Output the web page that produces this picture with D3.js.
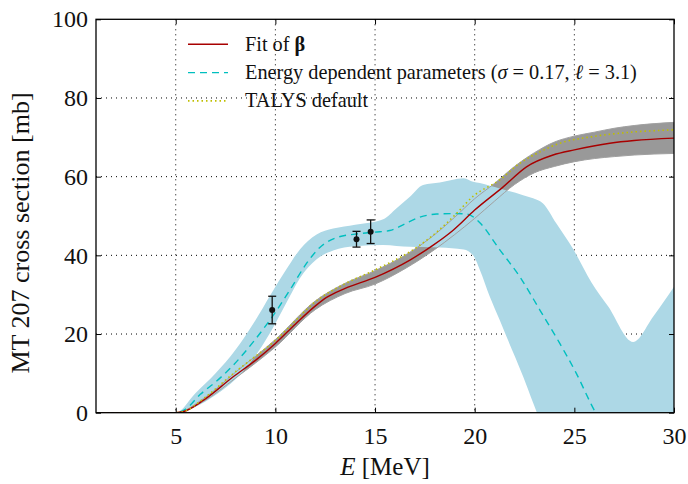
<!DOCTYPE html>
<html>
<head>
<meta charset="utf-8">
<script src="https://cdn.jsdelivr.net/npm/d3@7"></script>
<style>
  html, body { margin: 0; padding: 0; background: #fff; }
  svg { display: block; }
  text { font-family: "Liberation Serif", "DejaVu Serif", serif; fill: #111; }
</style>
</head>
<body>
<div id="chart"></div>
<script>
// ---- data (E in MeV, sigma in mb) ----
const fitE     = [1, 5, 5.4, 6.4, 7.9, 9, 10, 11, 12.07, 12.57, 13.5, 15, 16.75, 17.92, 18.92, 20, 21.43, 22.6, 23.93, 25, 26.78, 28, 30];
const fitSigma = [0, 0, 0.3, 3.2, 9.2, 13.3, 17.6, 22.5, 27.4, 29.3, 31.6, 34.4, 38.8, 42.6, 46.4, 51.5, 57.4, 62.5, 65.5, 66.8, 68.5, 69.2, 69.8];

// uncertainty band of the fit
const fitBandE    = [1, 5, 6.4, 8, 10, 12, 13.5, 15, 16.5, 18, 19, 20, 21, 22, 23, 24, 25, 26, 27, 28, 30];
const fitBandLow  = [0, 0, 2.9, 8.8, 16.7, 26.2, 30.3, 32.7, 36.6, 41.5, 45.3, 49.4, 53.8, 58.0, 61.0, 62.6, 63.8, 64.6, 65.1, 65.5, 65.9];
const fitBandHigh = [0, 0, 3.6, 10.3, 18.6, 28.4, 32.9, 36.1, 40.0, 45.3, 49.7, 54.4, 58.3, 62.6, 66.1, 68.8, 70.3, 71.3, 72.3, 73.0, 73.8];

// energy dependent parameters (sigma = 0.17, l = 3.1)
const edpE     = [1, 5, 5.5, 6.22, 7, 7.89, 8.97, 9.9, 10.73, 11.57, 12.23, 13.07, 14, 15, 15.74, 16.5, 17.25, 18.09, 19.0, 19.6, 20.0, 20.26, 21.26, 22.26, 23.27, 24.27, 25.1, 25.86, 26.5, 27.5];
const edpSigma = [0, 0, 0.9, 4.6, 7.8, 12.1, 18.5, 24.8, 31.2, 38.0, 42.0, 44.5, 45.4, 45.9, 46.3, 48.0, 49.7, 50.5, 50.6, 50.5, 49.5, 48.3, 41.4, 34.6, 26.1, 17.6, 10.0, 2.0, -4, -12];

const edpBandE    = [1, 5, 6, 7, 8, 9, 9.76, 10.56, 11.23, 12.07, 12.9, 14, 15.41, 16.08, 16.75, 17.41, 18.25, 19.45, 19.92, 20.26, 20.76, 21.26, 21.6, 22.43, 22.93, 23.43, 24.1, 24.94, 25.86, 26.7, 27.95, 28.95, 30];
const edpBandHigh = [0, 0, 5.0, 10.0, 16.0, 23.5, 30.0, 36.5, 41.5, 45.3, 46.8, 47.8, 49.2, 52.0, 54.9, 57.9, 58.5, 59.6, 58.7, 58.4, 57.7, 57.0, 56.5, 55.3, 54.5, 53.2, 48.1, 41.6, 33.1, 27.0, 18.0, 24.4, 32.0];
const edpBandLow  = [0, 0, 1.5, 4.5, 8.5, 14.5, 20.5, 28.0, 34.2, 39.0, 41.2, 42.3, 42.6, 42.4, 42.2, 42.1, 42.0, 41.5, 40.0, 36.3, 29.5, 23.5, 19.3, 9.2, 2.5, -4, -12, -22, -32, -42, -55, -65, -75];

// TALYS default
const talysE     = [1, 5, 5.4, 6.4, 7.9, 10, 12.23, 13.5, 15, 17.08, 18, 19, 19.92, 21.26, 22.26, 23.27, 24.27, 25.94, 27.6, 30];
const talysSigma = [0, 0, 0.3, 3.6, 10.0, 18.4, 29.1, 32.8, 36.3, 42.0, 45.5, 50.2, 55.0, 59.2, 63.4, 66.3, 68.5, 70.2, 71.2, 71.9];

// measurements
const measE     = [9.84, 14.07, 14.78];
const measSigma = [26.1, 44.1, 46.0];
const measErr   = [3.5, 2.0, 3.0];

const xTicks = [5, 10, 15, 20, 25, 30];
const yTicks = [0, 20, 40, 60, 80, 100];

// ---- layout ----
const W = 688, H = 484;
const m = { left: 96, right: 14, top: 19.3, bottom: 71.3 };
const iw = W - m.left - m.right, ih = H - m.top - m.bottom;

const svg = d3.select('#chart').append('svg').attr('width', W).attr('height', H);

const x = d3.scaleLinear().domain([1, 30]).range([0, iw]);
const y = d3.scaleLinear().domain([0, 100]).range([ih, 0]);

const g = svg.append('g').attr('transform', `translate(${m.left},${m.top})`);

svg.append('defs').append('clipPath').attr('id', 'plotclip')
  .append('rect').attr('width', iw).attr('height', ih);

// grid (dotted)
g.append('g').selectAll('line')
  .data(xTicks.filter(t => t < 30)).join('line')
  .attr('x1', d => x(d)).attr('x2', d => x(d))
  .attr('y1', 0).attr('y2', ih)
  .attr('stroke', '#000').attr('stroke-width', 1).attr('stroke-dasharray', '1,4');
g.append('g').selectAll('line')
  .data(yTicks.filter(t => t > 0 && t < 100)).join('line')
  .attr('y1', d => y(d)).attr('y2', d => y(d))
  .attr('x1', 0).attr('x2', iw)
  .attr('stroke', '#000').attr('stroke-width', 1).attr('stroke-dasharray', '1,4');

const plot = g.append('g').attr('clip-path', 'url(#plotclip)');

const pts = (xs, ys) => xs.map((e, i) => [e, ys[i]]);
const band = (xs, lo, hi) => xs.map((e, i) => ({ e, lo: lo[i], hi: hi[i] }));

const area = d3.area()
  .x(d => x(d.e)).y0(d => y(d.lo)).y1(d => y(d.hi))
  .curve(d3.curveMonotoneX);
const line = d3.line()
  .x(d => x(d[0])).y(d => y(d[1]))
  .curve(d3.curveMonotoneX);

const fitBand = band(fitBandE, fitBandLow, fitBandHigh);
const edpBand = band(edpBandE, edpBandLow, edpBandHigh);

// fit band fill, then the EDP band over it
plot.append('path').datum(fitBand)
  .attr('d', area).attr('fill', '#999999');
plot.append('path').datum(edpBand)
  .attr('d', area).attr('fill', '#add8e6');

// edges of the fit band stay visible through the blue band
plot.append('path').datum(pts(fitBandE, fitBandLow))
  .attr('d', line).attr('fill', 'none').attr('stroke', '#a0a0a0').attr('stroke-width', 1);
plot.append('path').datum(pts(fitBandE, fitBandHigh))
  .attr('d', line).attr('fill', 'none').attr('stroke', '#a0a0a0').attr('stroke-width', 1);

const seriesStyle = {
  fit:   { color: '#a80000', width: 1.4, dash: null },
  edp:   { color: '#00bfbf', width: 1.4, dash: '7,5' },
  talys: { color: '#bfbf00', width: 1.6, dash: '1.5,3' }
};

plot.append('path').datum(pts(edpE, edpSigma))
  .attr('d', line).attr('fill', 'none')
  .attr('stroke', seriesStyle.edp.color).attr('stroke-width', seriesStyle.edp.width)
  .attr('stroke-dasharray', seriesStyle.edp.dash);

plot.append('path').datum(pts(fitE, fitSigma))
  .attr('d', line).attr('fill', 'none')
  .attr('stroke', seriesStyle.fit.color).attr('stroke-width', seriesStyle.fit.width);

plot.append('path').datum(pts(talysE, talysSigma))
  .attr('d', line).attr('fill', 'none')
  .attr('stroke', seriesStyle.talys.color).attr('stroke-width', seriesStyle.talys.width)
  .attr('stroke-dasharray', seriesStyle.talys.dash);

// measurements with error bars
const meas = measE.map((e, i) => ({ e, s: measSigma[i], err: measErr[i] }));
const mg = g.append('g').selectAll('g').data(meas).join('g');
mg.append('line')
  .attr('x1', d => x(d.e)).attr('x2', d => x(d.e))
  .attr('y1', d => y(d.s - d.err)).attr('y2', d => y(d.s + d.err))
  .attr('stroke', '#111').attr('stroke-width', 1.3);
[-1, 1].forEach(sgn => {
  mg.append('line')
    .attr('x1', d => x(d.e) - 4).attr('x2', d => x(d.e) + 4)
    .attr('y1', d => y(d.s + sgn * d.err)).attr('y2', d => y(d.s + sgn * d.err))
    .attr('stroke', '#111').attr('stroke-width', 1.3);
});
mg.append('circle')
  .attr('cx', d => x(d.e)).attr('cy', d => y(d.s)).attr('r', 3)
  .attr('fill', '#111');

// ---- axes (ticks inside on all four sides) ----
const fontTick = 24;
const xAxis = g.append('g').attr('transform', `translate(0,${ih})`)
  .call(d3.axisBottom(x).tickValues(xTicks).tickSize(-5).tickPadding(14));
const yAxis = g.append('g')
  .call(d3.axisLeft(y).tickValues(yTicks).tickSize(-5).tickPadding(8));
g.append('g')
  .call(d3.axisTop(x).tickValues(xTicks).tickSize(-5).tickFormat(''));
g.append('g').attr('transform', `translate(${iw},0)`)
  .call(d3.axisRight(y).tickValues(yTicks).tickSize(-5).tickFormat(''));

g.selectAll('.domain').remove();
g.selectAll('.tick line').attr('stroke', '#000').attr('stroke-width', 1);
[xAxis, yAxis].forEach(a => a.selectAll('text')
  .attr('font-size', fontTick)
  .attr('font-family', '"Liberation Serif", "DejaVu Serif", serif')
  .attr('fill', '#111'));

g.append('rect')
  .attr('width', iw).attr('height', ih)
  .attr('fill', 'none').attr('stroke', '#000').attr('stroke-width', 1.3);

// axis labels
const xl = svg.append('text')
  .attr('x', m.left + iw / 2).attr('y', 475)
  .attr('text-anchor', 'middle').attr('font-size', 25);
xl.append('tspan').attr('font-style', 'italic').text('E');
xl.append('tspan').text(' [MeV]');

svg.append('text')
  .attr('transform', `translate(29,233) rotate(-90)`)
  .attr('text-anchor', 'middle').attr('font-size', 26)
  .text('MT 207 cross section [mb]');

// ---- legend (no frame) ----
const legend = g.append('g').attr('transform', 'translate(92,25)');
const rows = [
  { key: 'fit' },
  { key: 'edp' },
  { key: 'talys' }
];
rows.forEach((r, i) => {
  const st = seriesStyle[r.key];
  const ry = i * 28.3;
  legend.append('line')
    .attr('x1', 0).attr('x2', 40).attr('y1', ry).attr('y2', ry)
    .attr('stroke', st.color).attr('stroke-width', st.width)
    .attr('stroke-dasharray', st.dash);
  const t = legend.append('text')
    .attr('x', 57).attr('y', ry + 6.5).attr('font-size', 20.3);
  if (r.key === 'fit') {
    t.append('tspan').text('Fit of ');
    t.append('tspan').attr('font-weight', 'bold').text('β');
  } else if (r.key === 'edp') {
    t.append('tspan').text('Energy dependent parameters (');
    t.append('tspan').attr('font-style', 'italic').text('σ');
    t.append('tspan').text(' = 0.17, ');
    t.append('tspan').attr('font-style', 'italic').text('ℓ');
    t.append('tspan').text(' = 3.1)');
  } else {
    t.append('tspan').text('TALYS default');
  }
});
</script>
</body>
</html>
